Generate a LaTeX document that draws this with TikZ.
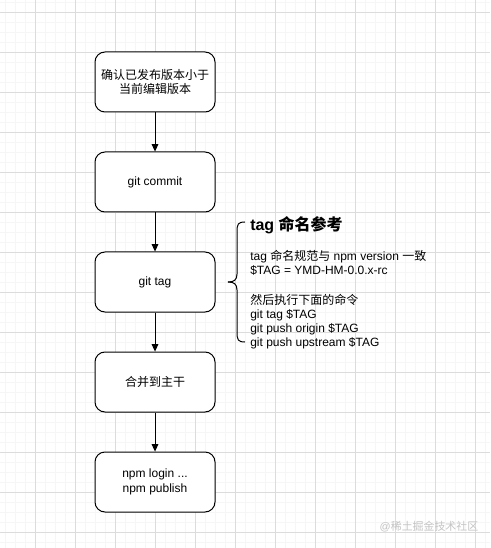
\documentclass[tikz,border=0pt]{standalone}
\usepackage{fontspec}
\setmainfont{Liberation Sans}
\newfontfamily\cjk{Noto Sans CJK SC}
\usetikzlibrary{arrows.meta}
\definecolor{gridmajor}{HTML}{DCDCDC}
\definecolor{gridminor}{HTML}{F6F6F6}
\definecolor{wmark}{HTML}{C4C4C4}
\tikzset{
  flowbox/.style={draw=black, line width=0.75pt, rounded corners=7.5pt, fill=white,
    minimum width=90pt, minimum height=45pt, align=center, inner sep=0pt,
    font=\fontsize{9}{10.8}\selectfont},
  flowarrow/.style={draw=black, line width=0.75pt, -{Triangle[length=5.5pt,width=5pt]}},
  bracepath/.style={draw=black, line width=0.75pt},
  notetext/.style={anchor=west, align=left, inner sep=0pt, font=\fontsize{9}{10.5}\selectfont},
}
\begin{document}
\begin{tikzpicture}[x=0.75pt,y=-0.75pt]
\useasboundingbox (0,0) rectangle (490,548);
\fill[white] (0,0) rectangle (490,548);
% grid
\foreach \gx in {5,15,...,485} \draw[gridminor, line width=0.5pt] (\gx,0) -- (\gx,548);
\foreach \gy in {2,12,...,548} \draw[gridminor, line width=0.5pt] (0,\gy) -- (490,\gy);
\foreach \gx in {35,75,...,475} \draw[gridmajor, line width=0.6pt] (\gx,0) -- (\gx,548);
\foreach \gy in {12,52,...,532} \draw[gridmajor, line width=0.6pt] (0,\gy) -- (490,\gy);

% boxes
\node[flowbox] (b1) at (155,82) {\cjk 确认已发布版本小于\\\cjk 当前编辑版本};
\node[flowbox] (b2) at (155,182) {git commit};
\node[flowbox] (b3) at (155,282) {git tag};
\node[flowbox] (b4) at (155,382) {\cjk 合并到主干};
\node[flowbox] (b5) at (155,482) {npm login ...\\npm publish};

\draw[flowarrow] (b1) -- (b2);
\draw[flowarrow] (b2) -- (b3);
\draw[flowarrow] (b3) -- (b4);
\draw[flowarrow] (b4) -- (b5);

% brace
\coordinate (btop) at (245,222);
\coordinate (bbot) at (245,342);
\coordinate (btip) at (228,282);
\draw[bracepath] (btop) .. controls (238,222) and (237,224) .. (237,232)
  -- (237,274) .. controls (237,280) and (234,282) .. (btip);
\draw[bracepath] (bbot) .. controls (238,342) and (237,340) .. (237,332)
  -- (237,290) .. controls (237,284) and (234,282) .. (btip);

% note
\node[anchor=west, inner sep=0pt, font=\fontsize{12}{14}\selectfont\bfseries] (title) at (250,225) {tag {\cjk\bfseries 命名参考}};
\node[notetext] (note) at (250,300) {tag {\cjk 命名规范与} npm version {\cjk 一致}\\
\$TAG = YMD-HM-0.0.x-rc\\
\strut\\
{\cjk 然后执行下面的命令}\\
git tag \$TAG\\
git push origin \$TAG\\
git push upstream \$TAG};

% watermark
\node[text=wmark, inner sep=0pt, font=\fontsize{8.2}{9}\selectfont] (wm) at (429,527) {@{\cjk 稀土掘金技术社区}};
\end{tikzpicture}
\end{document}
